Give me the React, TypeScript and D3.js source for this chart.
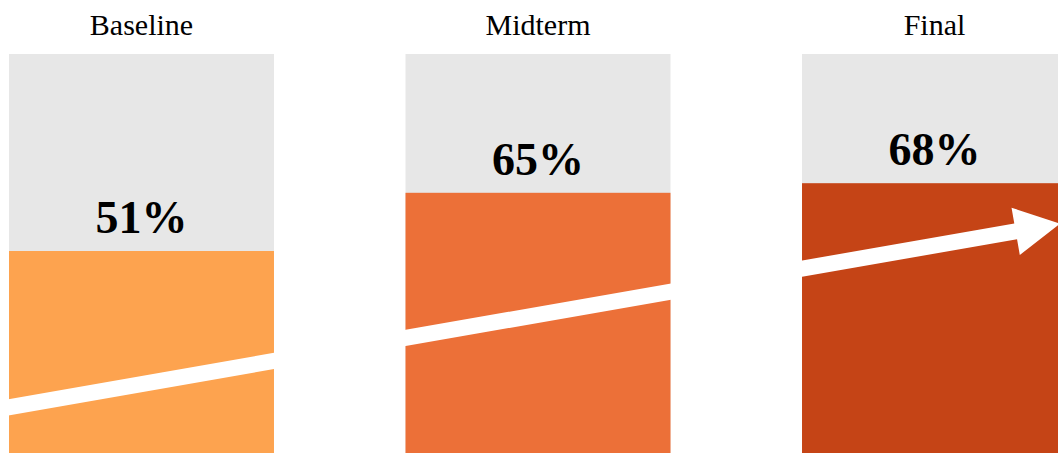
import React from "react";
import * as d3 from "d3";

const categories = ["Baseline", "Midterm", "Final"];
const values = [50.75, 65.3, 67.7];
const labels = ["51%", "65%", "68%"];
const colors = ["#FDA34F", "#EC7038", "#C54416"];

// arrow start/end in data terms (value on the y scale)
const arrowStartValue = 11.6;
const arrowEndValue = 57.6;

const W = 1058;
const H = 453;

export default function App() {
  const x = d3
    .scaleBand<string>()
    .domain(categories)
    .range([9, 1067])
    .paddingInner(0.3317)
    .paddingOuter(0);
  const y = d3.scaleLinear().domain([0, 100]).range([454, 54]);
  const bw = x.bandwidth();

  const x0 = x(categories[0])!;
  const x1 = x(categories[categories.length - 1])! + bw - 7;
  const p0: [number, number] = [x0 - 2, y(arrowStartValue)];
  const p1: [number, number] = [x1, y(arrowEndValue)];
  const dx = p1[0] - p0[0];
  const dy = p1[1] - p0[1];
  const len = Math.hypot(dx, dy);
  const ux = dx / len, uy = dy / len;
  const nx = -uy, ny = ux;
  const shaft = 8, head = 24, headLen = 45;
  const bx = p1[0] - ux * headLen, by = p1[1] - uy * headLen;
  const pts: [number, number][] = [
    [p0[0] + nx * shaft, p0[1] + ny * shaft],
    [bx + nx * shaft, by + ny * shaft],
    [bx + nx * head, by + ny * head],
    [p1[0], p1[1]],
    [bx - nx * head, by - ny * head],
    [bx - nx * shaft, by - ny * shaft],
    [p0[0] - nx * shaft, p0[1] - ny * shaft],
  ];
  const arrowPath = d3.line()(pts)! + "Z";

  return (
    <svg
      width={W}
      height={H}
      style={{ position: "absolute", left: 0, top: 0, display: "block", overflow: "hidden" }}
      fontFamily="'Liberation Serif', serif"
    >
      {categories.map((c, i) => {
        const bx0 = x(c)!;
        return (
          <g key={c}>
            <text
              x={bx0 + bw / 2}
              y={35}
              textAnchor="middle"
              fontSize={30}
              fill="#000"
            >
              {c}
            </text>
            <rect x={bx0} y={y(100)} width={bw} height={y(0) - y(100)} fill="#E7E7E7" />
            <rect x={bx0} y={y(values[i])} width={bw} height={y(0) - y(values[i])} fill={colors[i]} />
            <text
              x={bx0 + bw / 2}
              y={y(values[i]) - 18}
              textAnchor="middle"
              fontSize={46}
              fontWeight="bold"
              fill="#000"
            >
              {labels[i]}
            </text>
          </g>
        );
      })}
      <path d={arrowPath} fill="#fff" />
    </svg>
  );
}
